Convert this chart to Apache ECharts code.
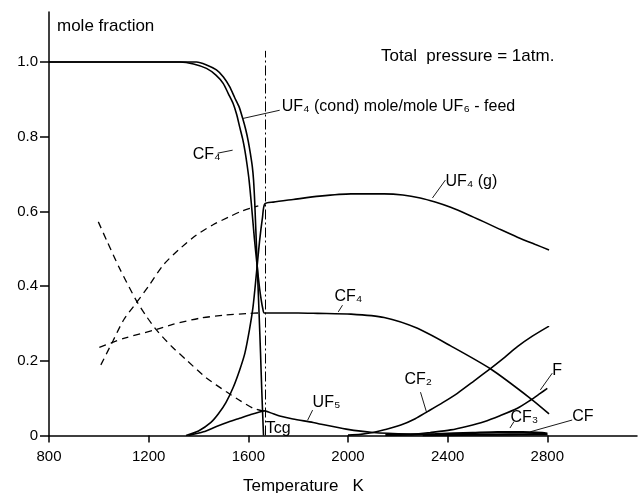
<!DOCTYPE html>
<html>
<head>
<meta charset="utf-8">
<script src="https://cdn.jsdelivr.net/npm/echarts@6/dist/echarts.min.js"></script>
<style>html,body{margin:0;padding:0;background:#fff}#c{width:638px;height:493px}</style>
</head>
<body>
<div id="c"></div>
<script>
// ---- tick labels ----
const xTicks = [800, 1200, 1600, 2000, 2400, 2800];
const yTicks = [0, 0.2, 0.4, 0.6, 0.8, 1.0];

// ---- solid curves [T (K), mole fraction] ----
const uf4Cond = [[800,1.0],[1200,1.0],[1392,1.0],[1430,0.993],[1472,0.979],[1500,0.96],[1525,0.934],[1545,0.905],[1563,0.88],[1577,0.85],[1590,0.818],[1600,0.787],[1608,0.756],[1616,0.72],[1621,0.684],[1626,0.62],[1636,0.45],[1643,0.33],[1649,0.22],[1654,0.12],[1658,0.05],[1661,0.0]];
const cf4 = [[800,1.0],[1200,1.0],[1325,1.0],[1380,0.995],[1432,0.983],[1470,0.965],[1499,0.943],[1520,0.915],[1539,0.889],[1553,0.86],[1565,0.827],[1577,0.795],[1586,0.764],[1595,0.725],[1603,0.684],[1612,0.622],[1624,0.53],[1636,0.45],[1645,0.395],[1652,0.362],[1658,0.34],[1664,0.328],[1700,0.328],[1800,0.328],[1878,0.327],[2012,0.325],[2145,0.316],[2279,0.287],[2412,0.24],[2573,0.178],[2733,0.099],[2807,0.058]];
const uf4Gas = [[1350,0],[1400,0.012],[1450,0.035],[1480,0.058],[1510,0.088],[1540,0.13],[1565,0.175],[1586,0.22],[1605,0.285],[1619,0.345],[1632,0.43],[1645,0.52],[1657,0.585],[1666,0.62],[1700,0.625],[1780,0.632],[1886,0.641],[2012,0.647],[2145,0.647],[2220,0.644],[2290,0.636],[2350,0.625],[2412,0.611],[2480,0.592],[2546,0.572],[2610,0.552],[2680,0.531],[2750,0.512],[2807,0.497]];
const uf5 = [[1360,0],[1420,0.01],[1472,0.024],[1520,0.036],[1565,0.046],[1610,0.056],[1645,0.063],[1664,0.066],[1700,0.058],[1726,0.052],[1779,0.044],[1860,0.035],[1886,0.031],[1993,0.017],[2100,0.008],[2250,0.004],[2400,0.003],[2600,0.002],[2800,0.002]];
const cf2 = [[2000,0.001],[2050,0.003],[2100,0.008],[2150,0.016],[2212,0.028],[2270,0.045],[2319,0.064],[2380,0.088],[2439,0.113],[2500,0.143],[2573,0.18],[2630,0.21],[2680,0.238],[2740,0.266],[2807,0.293]];
const fAtom = [[2250,0.002],[2330,0.008],[2412,0.015],[2480,0.025],[2546,0.037],[2610,0.053],[2680,0.073],[2733,0.095],[2770,0.112],[2800,0.126]];
const cf3 = [[2150,0.001],[2350,0.004],[2500,0.007],[2600,0.009],[2700,0.009],[2780,0.007],[2800,0.005]];
const cf = [[2300,0.0],[2500,0.002],[2650,0.003],[2750,0.004],[2800,0.004]];

// ---- dashed (metastable) curves ----
const uf4GasDash = [[1008,0.189],[1058,0.255],[1100,0.31],[1149,0.354],[1200,0.4],[1258,0.456],[1320,0.497],[1392,0.537],[1460,0.565],[1525,0.586],[1570,0.6],[1606,0.608],[1640,0.615]];
const cf4Dash = [[1002,0.236],[1050,0.248],[1100,0.26],[1232,0.284],[1300,0.298],[1405,0.314],[1500,0.322],[1606,0.327],[1640,0.328]];
const uf5Dash = [[998,0.572],[1031,0.523],[1080,0.452],[1149,0.363],[1190,0.32],[1232,0.282],[1290,0.24],[1352,0.202],[1430,0.155],[1512,0.117],[1570,0.092],[1619,0.073],[1660,0.065]];

// ---- Tcg ----
const tcg = 1666;
const tcgTop = 1.03;

// ---- curve labels [T, y, text] and leader lines ----
const labels = [
  [1734, 0.8795, 'UF₄ (cond) mole/mole UF₆ - feed'],
  [1377, 0.751, 'CF₄'],
  [2391, 0.679, 'UF₄ (g)'],
  [1946, 0.371, 'CF₄'],
  [1858, 0.087, 'UF₅'],
  [2227, 0.149, 'CF₂'],
  [2820, 0.175, 'F'],
  [2652, 0.047, 'CF₃'],
  [2900, 0.05, 'CF'],
  [1670, 0.0174, 'Tcg']
];
const leaders = [
  [[1579,0.849],[1726,0.871]],
  [[1477,0.756],[1537,0.764]],
  [[2339,0.636],[2391,0.684]],
  [[1961,0.331],[1978,0.349]],
  [[1838,0.041],[1858,0.068]],
  [[2291,0.116],[2315,0.063]],
  [[2772,0.122],[2820,0.167]],
  [[2650,0.02],[2666,0.037]],
  [[2732,0.01],[2900,0.0415]]
];

const FONT = "'Liberation Sans','DejaVu Sans',sans-serif";
const chart = echarts.init(document.getElementById('c'), null, {renderer:'canvas'});

function solid(data, w) {
  return {type:'line', data:data, showSymbol:false, symbol:'none', smooth:0.25, silent:true,
    lineStyle:{color:'#000', width:w||1.6}};
}
function dashed(data) {
  return {type:'line', data:data, showSymbol:false, symbol:'none', smooth:0.25, silent:true,
    lineStyle:{color:'#000', width:1.3, type:[7,5]}};
}

const option = {
  animation:false,
  backgroundColor:'#fff',
  grid:{left:49, right:1, top:12, bottom:57.5, containLabel:false},
  xAxis:{type:'value', min:800, max:3160,
    axisLine:{show:true, lineStyle:{color:'#000', width:1.5}},
    axisTick:{show:true, customValues:xTicks, length:7, lineStyle:{color:'#000', width:1.5}},
    axisLabel:{customValues:xTicks, color:'#000', fontSize:15, fontFamily:FONT, margin:14,
      formatter:function(v){return String(v);}},
    splitLine:{show:false}},
  yAxis:{type:'value', min:0, max:1.134,
    axisLine:{show:true, lineStyle:{color:'#000', width:1.5}},
    axisTick:{show:true, customValues:yTicks, length:9, lineStyle:{color:'#000', width:1.5}},
    axisLabel:{customValues:yTicks, color:'#000', fontSize:15, fontFamily:FONT, margin:11,
      formatter:function(v){return v===0?'0':v.toFixed(1);}},
    splitLine:{show:false}},
  graphic:[
    {type:'text', left:57, top:18, style:{text:'mole fraction', fontSize:17, fontFamily:FONT, fill:'#000'}},
    {type:'text', left:381, top:48, style:{text:'Total  pressure = 1atm.', fontSize:17, fontFamily:FONT, fill:'#000'}},
    {type:'text', left:243, top:478, style:{text:'Temperature   K', fontSize:17, fontFamily:FONT, fill:'#000'}}
  ],
  series:[
    solid(uf4Cond), solid(cf4), solid(uf4Gas), solid(uf5), solid(cf2), solid(fAtom),
    solid(cf3, 2.2), solid(cf, 2.2),
    dashed(uf4GasDash), dashed(cf4Dash), dashed(uf5Dash),
    {type:'lines', coordinateSystem:'cartesian2d', silent:true,
      data:[{coords:[[tcg,0],[tcg,tcgTop]]}],
      lineStyle:{color:'#000', width:1, type:[10,3,2,3], opacity:1}},
    {type:'lines', coordinateSystem:'cartesian2d', silent:true,
      data:leaders.map(function(c){return {coords:c};}),
      lineStyle:{color:'#000', width:0.9, opacity:1}},
    {type:'scatter', symbolSize:0, silent:true, itemStyle:{opacity:1},
      data:labels.map(function(l){return [l[0], l[1], l[2]];}),
      label:{show:true, position:'right', distance:0, color:'#000', opacity:1, fontSize:16, fontFamily:FONT,
        formatter:function(p){return p.data[2];}}}
  ]
};
chart.setOption(option);
</script>
</body>
</html>
